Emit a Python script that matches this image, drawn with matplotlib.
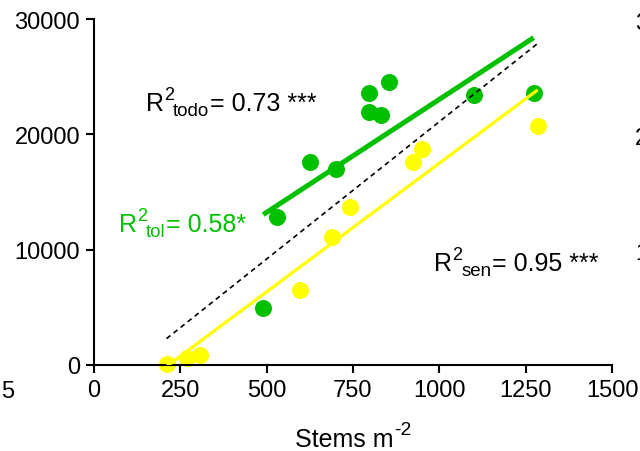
import numpy as np
import matplotlib
matplotlib.use("Agg")
import matplotlib.pyplot as plt
from matplotlib.transforms import IdentityTransform

plt.rcParams['font.family'] = ['Liberation Sans', 'DejaVu Sans']

# tolerant (green) and sensitive (yellow) stems vs. value
tol_x = [490, 530, 625, 700, 795, 795, 830, 855, 1100, 1273]
tol_y = [4900, 12800, 17600, 17000, 23600, 21900, 21700, 24500, 23400, 23600]
sen_x = [210, 268, 307, 597, 688, 741, 925, 949, 1285]
sen_y = [100, 600, 900, 6500, 11100, 13700, 17600, 18700, 20700]

green = '#00c000'
yellow = '#ffff00'


def fit_line(x, y):
    x = np.asarray(x, float)
    y = np.asarray(y, float)
    m, b = np.polyfit(x, y, 1)
    xs = np.array([x.min(), x.max()])
    return xs, m * xs + b


fig = plt.figure(figsize=(6.4, 4.52), dpi=100)
ax = fig.add_axes([94 / 640, 1 - 366 / 452, 518 / 640, 346 / 452])

ax.scatter(tol_x, tol_y, s=150, color=green, linewidths=0, zorder=2, clip_on=False)
ax.scatter(sen_x, sen_y, s=150, color=yellow, linewidths=0, zorder=2, clip_on=False)

xs, ys = fit_line(tol_x, tol_y)
ax.plot(xs, ys, color=green, lw=3.6, solid_capstyle='butt', zorder=3)
xs, ys = fit_line(sen_x, sen_y)
ax.plot(xs, ys, color=yellow, lw=2.3, solid_capstyle='butt', zorder=3)
xs, ys = fit_line(tol_x + sen_x, tol_y + sen_y)
ax.plot(xs, ys, color='black', lw=1.2, dashes=(3, 2.4), zorder=4)

ax.set_xlim(0, 1500)
ax.set_ylim(0, 30000)
ax.set_xticks([0, 250, 500, 750, 1000, 1250, 1500])
ax.set_yticks([0, 10000, 20000, 30000])
for s in ['top', 'right']:
    ax.spines[s].set_visible(False)
for s in ['left', 'bottom']:
    ax.spines[s].set_linewidth(1.5)
ax.tick_params(direction='out', length=6, width=1.5, labelsize=17, pad=4)

renderer = fig.canvas.get_renderer()


def chain(x0, y0, parts, color='black'):
    # parts: (text, fontsize, gap before in px, baseline shift in px)
    texts = []
    x = x0
    for txt, size, gap, dy in parts:
        t = fig.text(x + gap, y0 + dy, txt, fontsize=size, color=color,
                     ha='left', va='baseline', transform=IdentityTransform())
        x = x + gap + t.get_window_extent(renderer).width
        texts.append(t)
    return texts, x - x0


def r2_label(x, y, sub, rest, color='black'):
    px, py = ax.transData.transform((x, y))
    chain(px, py, [('R', 18, 0, 0), ('2', 13, 0, 11),
                   (sub, 13.5, -1, -5), (rest, 18, 1, 0)], color)


r2_label(151, 22110, 'todo', '= 0.73 ***')
r2_label(72, 11660, 'tol', '= 0.58*', green)
r2_label(985, 8240, 'sen', '= 0.95 ***')

# x axis title, centred under the axes
texts, w = chain(0, 452 - 447, [('Stems m', 18, 0, 0), ('-2', 14, 1, 12)])
cx = (94 + 612) / 2
for t in texts:
    x, y = t.get_position()
    t.set_position((x + cx - w / 2, y))

# bits of the neighbouring panels cut off at the edges
fig.text(1 / 640, 1 - 398 / 452, '5', fontsize=17)
for lab, py in [('3', 30), ('2', 145), ('1', 260)]:
    fig.text(635 / 640, 1 - py / 452, lab, fontsize=17)

fig.savefig('out.png', dpi=100)
